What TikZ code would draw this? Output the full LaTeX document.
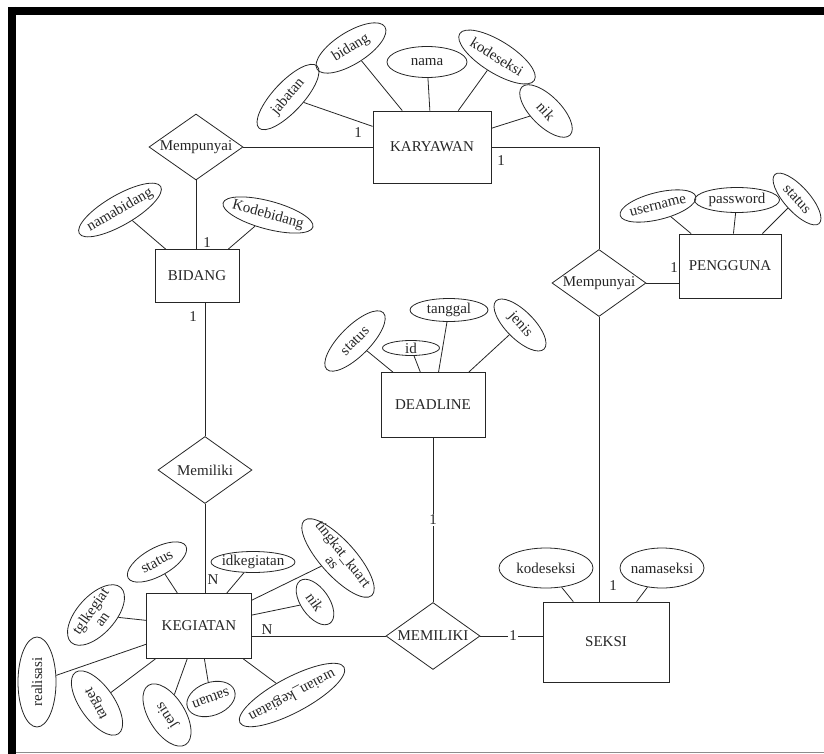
\documentclass[tikz,border=0pt]{standalone}
\usepackage{fontspec}
\setmainfont{Liberation Serif}
\usetikzlibrary{shapes.geometric,positioning}

\begin{document}
\begin{tikzpicture}[x=1pt, y=-1pt, font=\fontsize{15}{17}\selectfont, color=black!85, line width=0.8pt,
  ent/.style={draw, rectangle, inner sep=2pt},
  rel/.style={draw, diamond, inner sep=0pt, minimum width=94, minimum height=66},
  attr/.style={draw, ellipse, inner sep=0pt},
  card/.style={inner sep=1pt, font=\fontsize{15}{17}\selectfont}]
\useasboundingbox (0,0) rectangle (824,754);
% frame
\draw[black, line width=8pt] (8,11) -- (824,11);
\draw[black, line width=8pt] (12,7) -- (12,754);
\draw[black!45, line width=1.5pt] (16,752.5) -- (824,752.5);

% entities
\node[ent, minimum width=118, minimum height=72] (karyawan) at (432,147) {KARYAWAN};
\node[ent, minimum width=84, minimum height=53] (bidang) at (197,276) {BIDANG};
\node[ent, minimum width=102, minimum height=64] (pengguna) at (730,266) {PENGGUNA};
\node[ent, minimum width=104, minimum height=65] (deadline) at (433,405) {DEADLINE};
\node[ent, minimum width=105, minimum height=65] (kegiatan) at (199,626) {KEGIATAN};
\node[ent, minimum width=126, minimum height=80] (seksi) at (606,642) {SEKSI};

% relationships
\node[rel] (mempunyaiA) at (196,147) {\makebox[0pt]{Mempunyai}};
\node[rel, minimum height=67] (mempunyaiB) at (599,283) {\makebox[0pt]{Mempunyai}};
\node[rel, minimum height=67] (memilikiA) at (205,470) {\makebox[0pt]{Memiliki}};
\node[rel, minimum height=67] (memilikiB) at (433,636) {\makebox[0pt]{MEMILIKI}};

% attributes of KARYAWAN
\node[attr, minimum width=85, minimum height=30, rotate=47, label={[rotate=50]center:jabatan}] (kJabatan) at (288,97) {};
\node[attr, minimum width=80, minimum height=32, rotate=32, label={[rotate=32]center:bidang}] (kBidang) at (351,48) {};
\node[attr, minimum width=80, minimum height=31, label={center:nama}] (kNama) at (427,62) {};
\node[attr, minimum width=88, minimum height=32, rotate=-32, label={[rotate=-32]center:kodeseksi}] (kKodeseksi) at (497,57) {};
\node[attr, minimum width=68, minimum height=30, rotate=-45, label={[rotate=-48]center:nik}] (kNik) at (546,111) {};

% attributes of BIDANG
\node[attr, minimum width=94, minimum height=30, rotate=30, label={[rotate=30]center:namabidang}] (bNamabidang) at (120,210) {};
\node[attr, minimum width=93, minimum height=28, rotate=-15, label={[rotate=-15]center:Kodebidang}] (bKodebidang) at (268,215) {};

% attributes of PENGGUNA
\node[attr, minimum width=78, minimum height=27, rotate=14, label={[rotate=14]center:username}] (pUsername) at (658,206) {};
\node[attr, minimum width=85, minimum height=25, label={center:password}] (pPassword) at (737,200) {};
\node[attr, minimum width=66, minimum height=25, rotate=-48, label={[rotate=-48]center:status}] (pStatus) at (797,199) {};

% attributes of DEADLINE
\node[attr, minimum width=80, minimum height=30, rotate=45, label={[rotate=45]center:status}] (dStatus) at (355,341) {};
\node[attr, minimum width=57, minimum height=15, label={center:id}] (dId) at (411,348) {};
\node[attr, minimum width=78, minimum height=23, label={center:tanggal}] (dTanggal) at (449,310) {};
\node[attr, minimum width=68, minimum height=28, rotate=-45, label={[rotate=-48]center:jenis}] (dJenis) at (520,325) {};

% attributes of KEGIATAN
\node[attr, minimum width=66, minimum height=28, rotate=29, label={[rotate=29]center:status}] (gStatus) at (157,562) {};
\node[attr, minimum width=84, minimum height=21, label={center:idkegiatan}] (gIdkegiatan) at (253,562) {};
\node[attr, minimum width=101, minimum height=35, rotate=-48, label={[rotate=-52, align=center, font=\fontsize{15}{14}\selectfont]center:tingkat\_kuart\\as}] (gTingkat) at (338,558) {};
\node[attr, minimum width=52, minimum height=28, rotate=-55, label={[rotate=-55]center:nik}] (gNik) at (315,602) {};
\node[attr, minimum width=74, minimum height=38, rotate=48, label={[rotate=55, align=center, font=\fontsize{15}{14}\selectfont]center:tglkegiat\\an}] (gTglkegiatan) at (96,615) {};
\node[attr, minimum width=90, minimum height=38, rotate=90, label={[rotate=90]center:realisasi}] (gRealisasi) at (37,682) {};
\node[attr, minimum width=75, minimum height=34, rotate=125, label={[rotate=118]center:target}] (gTarget) at (97,703) {};
\node[attr, minimum width=70, minimum height=36, rotate=122, label={[rotate=122]center:jenis}] (gJenis) at (167,715) {};
\node[attr, minimum width=50, minimum height=33, rotate=200, label={[rotate=200]center:satuan}] (gSatuan) at (211,699) {};
\node[attr, minimum width=118, minimum height=35, rotate=208, label={[rotate=208]center:uraian\_kegiatan}] (gUraian) at (292,695) {};

% attributes of SEKSI
\node[attr, minimum width=94, minimum height=40, label={center:kodeseksi}] (sKodeseksi) at (546,568) {};
\node[attr, minimum width=84, minimum height=40, label={center:namaseksi}] (sNamaseksi) at (662,568) {};

% attribute links
\draw (kJabatan) -- (karyawan) (kBidang) -- (karyawan) (kNama) -- (karyawan)
      (kKodeseksi) -- (karyawan) (kNik) -- (karyawan);
\draw (bNamabidang) -- (bidang) (bKodebidang) -- (bidang);
\draw (pUsername) -- (pengguna) (pPassword) -- (pengguna) (pStatus) -- (pengguna);
\draw (dStatus) -- (deadline) (dId) -- (deadline) (dTanggal) -- (deadline) (dJenis) -- (deadline);
\draw (gStatus) -- (kegiatan) (gIdkegiatan) -- (kegiatan) (gTingkat) -- (kegiatan)
      (gNik) -- (kegiatan) (gTglkegiatan) -- (kegiatan) (gRealisasi) -- (kegiatan)
      (gTarget) -- (kegiatan) (gJenis) -- (kegiatan) (gSatuan) -- (kegiatan) (gUraian) -- (kegiatan);
\draw (sKodeseksi) -- (seksi) (sNamaseksi) -- (seksi);

% relationship links
\draw (mempunyaiA.east) -- (mempunyaiA.east -| karyawan.west);
\draw (mempunyaiA.south) -- (mempunyaiA.south |- bidang.north);
\draw (karyawan.east) -| (mempunyaiB.north);
\draw (mempunyaiB.east) -- (mempunyaiB.east -| pengguna.west);
\draw (mempunyaiB.south) -- (mempunyaiB.south |- seksi.north);
\draw (memilikiA.north |- bidang.south) -- (memilikiA.north);
\draw (memilikiA.south) -- (memilikiA.south |- kegiatan.north);
\draw (memilikiB.west -| kegiatan.east) -- (memilikiB.west);
\draw (deadline) -- (memilikiB);
\draw (memilikiB.east) -- (memilikiB.east -| seksi.west);

% cardinalities
\node[card] (cKarA) at (358,133) {1};
\node[card] (cKarB) at (501,161) {1};
\node[card] (cBidA) at (207,243) {1};
\node[card] (cBidB) at (193,317) {1};
\node[card] (cPeng) at (674,268) {1};
\node[card] (cSeksiA) at (613,586) {1};
\node[card] (cKegA) at (213,580) {N};
\node[card, fill=white] (cKegB) at (267,630) {N};
\node[card, fill=white] (cDead) at (433,520) {1};
\node[card, fill=white] (cSeksiB) at (513,636) {1};
\end{tikzpicture}
\end{document}
